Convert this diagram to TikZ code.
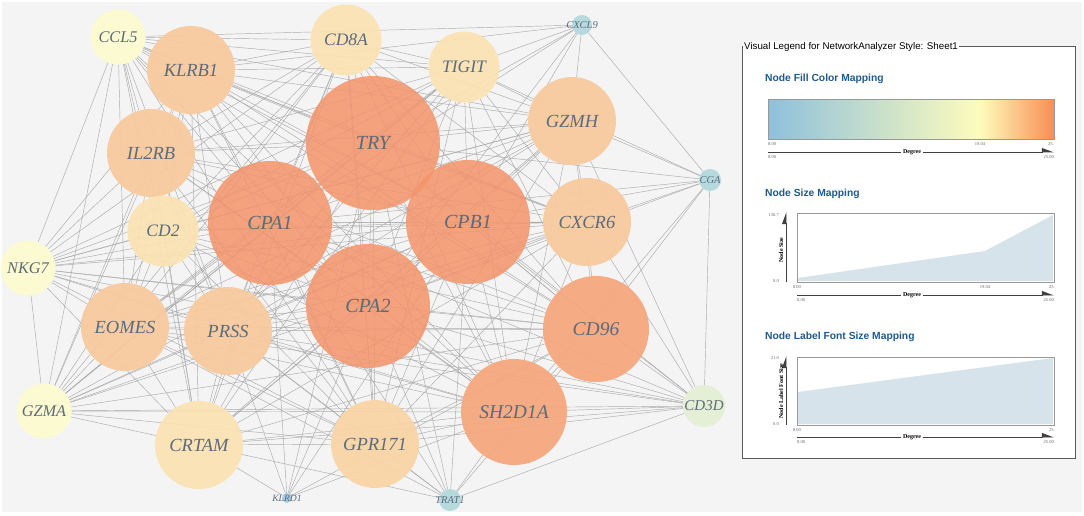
\documentclass[tikz,border=0pt]{standalone}
\usepackage{fontspec}
\setmainfont{Liberation Serif}
\newfontfamily\legendfont{Liberation Sans}
\usetikzlibrary{arrows.meta}

\definecolor{canvas}{HTML}{F4F4F4}
\definecolor{edgegray}{HTML}{ABABAB}
\definecolor{labelc}{HTML}{5C6B7A}
\definecolor{hubc}{HTML}{F4946A}
\definecolor{bigc}{HTML}{F6A67C}
\definecolor{midc}{HTML}{F9CA9D}
\definecolor{lightc}{HTML}{FBE2B2}
\definecolor{palec}{HTML}{FDFBCF}
\definecolor{greenc}{HTML}{E4EFD4}
\definecolor{bluec}{HTML}{B2D7DD}
\definecolor{skyc}{HTML}{9FCAE3}
\definecolor{legblue}{HTML}{8FC0DC}
\definecolor{legyellow}{HTML}{FDFCBC}
\definecolor{legorange}{HTML}{F98D52}
\definecolor{titleblue}{HTML}{1F5A8E}
\definecolor{areac}{HTML}{D6E3EB}

\pgfdeclarelayer{bg}
\pgfsetlayers{bg,main}

\tikzset{
    gene/.style={circle, inner sep=0pt, text=labelc, text opacity=1, fill opacity=0.93},
    genehub/.style={gene, minimum size=124pt, fill=hubc, fill opacity=0.85, font=\itshape\fontsize{20}{20}\selectfont},
    genebig/.style={gene, minimum size=106pt, fill=bigc, font=\itshape\fontsize{19.5}{19.5}\selectfont},
    genemid/.style={gene, minimum size=88pt, fill=midc, font=\itshape\fontsize{18.5}{18.5}\selectfont},
    genelight/.style={gene, minimum size=71pt, fill=lightc, font=\itshape\fontsize{17.5}{17.5}\selectfont},
    genepale/.style={gene, minimum size=55pt, fill=palec, font=\itshape\fontsize{16.3}{16.3}\selectfont},
    genedot/.style={gene, minimum size=21pt, fill=bluec, label={[dotlabel]center:#1}},
    dotlabel/.style={inner sep=0pt, text=labelc, text opacity=1, font=\itshape\fontsize{10.5}{10.5}\selectfont},
    link/.style={draw=edgegray, line width=0.45pt},
    legframe/.style={draw=black!65, line width=1pt},
    legheading/.style={font=\legendfont\fontsize{9.75}{9.75}\selectfont, inner sep=1pt, fill=white},
    legtitle/.style={font=\legendfont\bfseries\fontsize{10.3}{10.3}\selectfont, text=titleblue, anchor=west, inner sep=0pt},
    plotframe/.style={draw=black!40, line width=1pt},
    axisline/.style={draw=black!75, line width=0.9pt},
    axistip/.style={-{Triangle[left, length=11pt, width=8pt]}},
    axisname/.style={font=\bfseries\fontsize{6}{6}\selectfont, inner sep=1.5pt},
    ticklabel/.style={font=\fontsize{4.5}{4.5}\selectfont, text=black!60, inner sep=0pt}
}

\def\core{CCL5,KLRB1,CD8A,TIGIT,GZMH,TRY,IL2RB,CPA1,CPB1,CD2,CXCR6,NKG7,CPA2,EOMES,PRSS,CD96,GZMA,CRTAM,GPR171,SH2D1A}

\begin{document}
\begin{tikzpicture}[x=1pt, y=-1pt]
    \useasboundingbox (0,0) rectangle (1084,516);
    \begin{pgfonlayer}{bg}
        \fill[canvas] (2,2) rectangle (1082,512);
    \end{pgfonlayer}

    % network
    \node[genepale] (CCL5) at (118,37) {CCL5};
    \node[genemid] (KLRB1) at (191,70) {KLRB1};
    \node[genelight] (CD8A) at (346,40) {CD8A};
    \node[genelight] (TIGIT) at (464,67) {TIGIT};
    \node[genedot=CXCL9, minimum size=20pt] (CXCL9) at (582,25) {};
    \node[genemid] (GZMH) at (572,121) {GZMH};
    \node[genedot=CGA, minimum size=22pt] (CGA) at (710,180) {};
    \node[genehub, minimum size=134pt] (TRY) at (373,143) {TRY};
    \node[genemid] (IL2RB) at (151,153) {IL2RB};
    \node[genehub] (CPA1) at (270,223) {CPA1};
    \node[genehub] (CPB1) at (468,222) {CPB1};
    \node[genelight] (CD2) at (163,231) {CD2};
    \node[genemid] (CXCR6) at (587,222) {CXCR6};
    \node[genepale] (NKG7) at (28,268) {NKG7};
    \node[genehub] (CPA2) at (368,306) {CPA2};
    \node[genemid] (EOMES) at (125,327) {EOMES};
    \node[genemid] (PRSS) at (228,331) {PRSS};
    \node[genebig] (CD96) at (596,329) {CD96};
    \node[genepale] (GZMA) at (44,411) {GZMA};
    \node[genemid, fill=lightc] (CRTAM) at (199,445) {CRTAM};
    \node[genemid, fill=midc!60!lightc] (GPR171) at (375,444) {GPR171};
    \node[genebig] (SH2D1A) at (514,412) {SH2D1A};
    \node[gene, minimum size=42pt, fill=greenc, font=\itshape\fontsize{15}{15}\selectfont] (CD3D) at (704,406) {CD3D};
    \node[genedot={}, minimum size=10pt, fill=skyc,
        label={[dotlabel, font=\itshape\fontsize{9.6}{9.6}\selectfont]center:KLRD1}] (KLRD1) at (287,498) {};
    \node[genedot=TRAT1, minimum size=22pt] (TRAT1) at (450,500) {};

    \begin{pgfonlayer}{bg}
        \foreach \a [count=\i] in \core {
            \foreach \b [count=\j] in \core {
                \ifnum\i<\j \draw[link] (\a) -- (\b); \fi
            }
        }
        \foreach \b in {CCL5,KLRB1,TIGIT,TRY,CPA1,CPB1,CPA2,GZMH,CGA}
            \draw[link] (CXCL9) -- (\b);
        \foreach \b in {GZMH,CXCR6,TRY,CPB1,CPA1,CPA2,CD96,SH2D1A,TIGIT,CD3D}
            \draw[link] (CGA) -- (\b);
        \foreach \b in {CD96,SH2D1A,CPA2,CPB1,CPA1,TRY,GPR171,PRSS,EOMES,CRTAM,GZMA,CXCR6,GZMH,NKG7,TRAT1}
            \draw[link] (CD3D) -- (\b);
        \foreach \b in {SH2D1A,GPR171,CPA2,CPB1,CPA1,TRY,CD96,PRSS,CRTAM,EOMES}
            \draw[link] (TRAT1) -- (\b);
        \foreach \b in {CRTAM,PRSS,CPA1,CPA2,TRY,CPB1,SH2D1A,CD96}
            \draw[link] (KLRD1) -- (\b);
    \end{pgfonlayer}

    % legend
    \draw[legframe, fill=white] (742,47) rectangle (1075,458);
    \node[legheading, anchor=west] (legend) at (743,47) {Visual Legend for NetworkAnalyzer Style: Sheet1};

    \node[legtitle] (fillhead) at (765,79) {Node Fill Color Mapping};
    \shade[left color=legblue, right color=legyellow] (768,100) rectangle (980,140);
    \shade[left color=legyellow, right color=legorange] (980,100) rectangle (1054,140);
    \draw[plotframe] (768,100) rectangle (1054,140);
    \node[ticklabel, anchor=north west] (fillmin) at (768,142) {8.00};
    \node[ticklabel, anchor=north] (fillmid) at (980,142) {19.04};
    \node[ticklabel, anchor=north east] (fillmax) at (1054,142) {25.};

    \node[legtitle] (sizehead) at (765,194) {Node Size Mapping};
    \fill[areac] (798,278) -- (985,251) -- (1053,215) -- (1053,281) -- (798,281) -- cycle;
    \draw[plotframe] (797,213) rectangle (1054,282);
    \draw[axisline, axistip] (786,282) -- (786,212);
    \node[axisname, rotate=90] (sizename) at (781,250) {Node Size};
    \node[ticklabel, anchor=east] (sizetop) at (779,215) {130.7};
    \node[ticklabel, anchor=east] (sizebot) at (779,281) {0.0};
    \node[ticklabel, anchor=north] (sizemin) at (797,285) {8.00};
    \node[ticklabel, anchor=north] (sizemid) at (985,285) {19.04};
    \node[ticklabel, anchor=north east] (sizemax) at (1055,285) {25.};

    \node[legtitle] (fonthead) at (765,337) {Node Label Font Size Mapping};
    \fill[areac] (798,392) -- (1053,358) -- (1053,424) -- (798,424) -- cycle;
    \draw[plotframe] (797,357) rectangle (1054,425);
    \draw[axisline, axistip] (786,425) -- (786,356);
    \node[axisname, rotate=90] (fontname) at (781,391) {Node Label Font Size};
    \node[ticklabel, anchor=east] (fonttop) at (779,358) {21.0};
    \node[ticklabel, anchor=east] (fontbot) at (779,424) {0.0};
    \node[ticklabel, anchor=north] (fontmin) at (797,428) {8.00};
    \node[ticklabel, anchor=north east] (fontmax) at (1055,428) {25.};

    \foreach \ya/\xa [count=\k] in {152/768, 295/797, 437/797} {
        \node[axisname, fill=white] (deg\k) at (912,\ya) {Degree};
        \draw[axisline] (\xa,\ya) -- (deg\k);
        \draw[axisline, axistip] (deg\k) -- (1054,\ya);
        \node[ticklabel, anchor=north west] (lo\k) at (\xa,\ya+3) {8.00};
        \node[ticklabel, anchor=north east] (hi\k) at (1054,\ya+3) {25.00};
    }
\end{tikzpicture}
\end{document}
